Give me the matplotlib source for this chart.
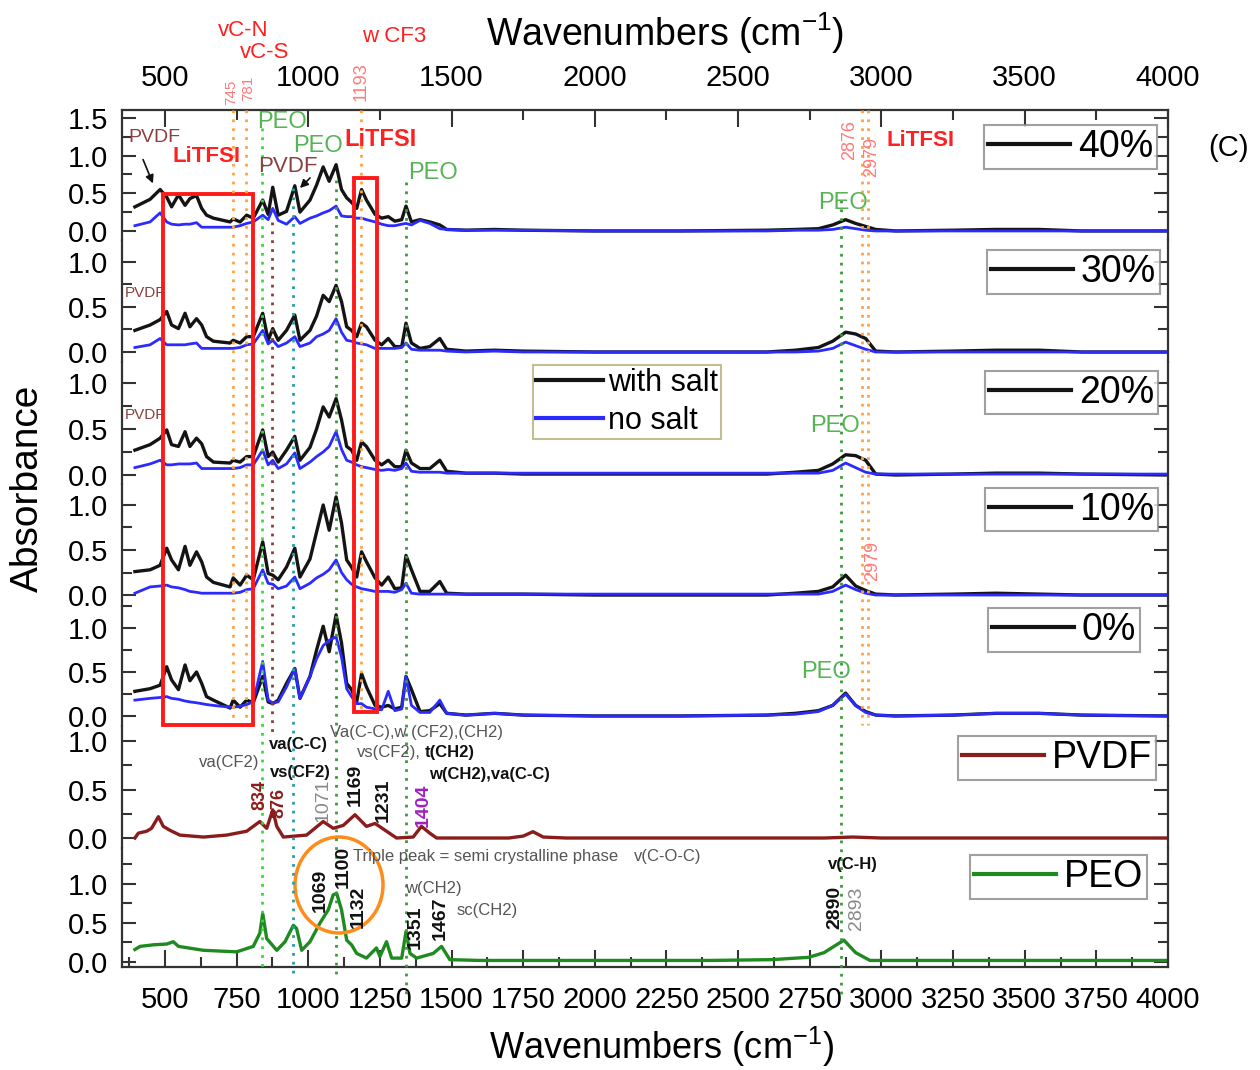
import matplotlib
matplotlib.use('Agg')
import matplotlib.pyplot as plt
from matplotlib import transforms
from matplotlib.lines import Line2D
from matplotlib.patches import Rectangle, Ellipse, FancyArrowPatch
from matplotlib.ticker import MultipleLocator, FormatStrFormatter

plt.rcParams['font.family'] = ['Liberation Sans', 'DejaVu Sans']
plt.rcParams['mathtext.default'] = 'regular'

# wavenumber grid (cm-1) shared by the blend spectra
wn_blend = [395, 448, 483, 506, 523, 547, 570, 587, 610, 628,
            645, 669, 727, 738, 762, 785, 808, 841, 860, 876,
            895, 924, 953, 971, 1006, 1029, 1052, 1073, 1097, 1116,
            1134, 1151, 1169, 1186, 1203, 1233, 1256, 1279, 1302, 1326,
            1341, 1360, 1390, 1424, 1459, 1483,
            1550, 1650, 1750, 2000, 2300, 2600, 2700, 2780, 2830, 2875,
            2910, 2945, 2980, 3050, 3250, 3400, 3550, 3700, 4000]

salt_40 = [0.32, 0.42, 0.55, 0.45, 0.32, 0.48, 0.34, 0.43, 0.47, 0.30,
           0.21, 0.17, 0.12, 0.16, 0.12, 0.21, 0.17, 0.41, 0.22, 0.58,
           0.21, 0.26, 0.60, 0.25, 0.41, 0.61, 0.85, 0.66, 0.88, 0.55,
           0.44, 0.38, 0.30, 0.55, 0.41, 0.22, 0.17, 0.19, 0.13, 0.15,
           0.33, 0.12, 0.15, 0.12, 0.08, 0.02,
           0.01, 0.02, 0.01, 0.00, 0.00, 0.01, 0.02, 0.03, 0.08, 0.15,
           0.10, 0.06, 0.02, 0.00, 0.01, 0.02, 0.02, 0.00, 0.00]
nosalt_40 = [0.07, 0.12, 0.24, 0.12, 0.09, 0.08, 0.09, 0.09, 0.11, 0.05,
             0.05, 0.05, 0.05, 0.05, 0.07, 0.10, 0.12, 0.21, 0.15, 0.30,
             0.14, 0.09, 0.19, 0.10, 0.17, 0.20, 0.24, 0.27, 0.33, 0.20,
             0.19, 0.19, 0.17, 0.17, 0.15, 0.12, 0.09, 0.07, 0.07, 0.09,
             0.10, 0.08, 0.14, 0.10, 0.03, 0.02,
             0.01, 0.01, 0.01, 0.00, 0.00, 0.00, 0.01, 0.01, 0.02, 0.05,
             0.03, 0.01, 0.00, 0.00, 0.00, 0.00, 0.00, 0.00, 0.00]
salt_30 = [0.24, 0.30, 0.36, 0.45, 0.30, 0.26, 0.43, 0.28, 0.37, 0.30,
           0.17, 0.12, 0.10, 0.13, 0.10, 0.17, 0.17, 0.43, 0.13, 0.26,
           0.13, 0.24, 0.41, 0.13, 0.24, 0.40, 0.63, 0.56, 0.74, 0.56,
           0.28, 0.24, 0.17, 0.32, 0.28, 0.13, 0.08, 0.15, 0.06, 0.06,
           0.32, 0.10, 0.04, 0.06, 0.15, 0.03,
           0.01, 0.02, 0.01, 0.00, 0.00, 0.00, 0.02, 0.05, 0.12, 0.22,
           0.20, 0.15, 0.01, 0.00, 0.01, 0.02, 0.02, 0.00, 0.00]
nosalt_30 = [0.05, 0.08, 0.15, 0.08, 0.08, 0.08, 0.08, 0.09, 0.10, 0.04,
             0.04, 0.04, 0.04, 0.04, 0.05, 0.08, 0.09, 0.24, 0.09, 0.13,
             0.06, 0.10, 0.17, 0.06, 0.10, 0.17, 0.20, 0.24, 0.37, 0.22,
             0.13, 0.12, 0.10, 0.09, 0.08, 0.04, 0.04, 0.04, 0.04, 0.05,
             0.10, 0.03, 0.02, 0.02, 0.02, 0.01,
             0.00, 0.01, 0.00, 0.00, 0.00, 0.00, 0.00, 0.01, 0.04, 0.11,
             0.07, 0.03, 0.00, 0.00, 0.00, 0.00, 0.00, 0.00, 0.00]
salt_20 = [0.27, 0.33, 0.40, 0.49, 0.33, 0.31, 0.47, 0.31, 0.40, 0.34,
           0.20, 0.14, 0.13, 0.16, 0.14, 0.20, 0.20, 0.49, 0.20, 0.25,
           0.14, 0.27, 0.42, 0.16, 0.30, 0.50, 0.74, 0.63, 0.83, 0.60,
           0.31, 0.27, 0.16, 0.36, 0.31, 0.16, 0.11, 0.16, 0.09, 0.09,
           0.27, 0.13, 0.07, 0.07, 0.16, 0.04,
           0.02, 0.02, 0.01, 0.01, 0.01, 0.01, 0.03, 0.05, 0.12, 0.22,
           0.21, 0.16, 0.01, 0.00, 0.01, 0.02, 0.02, 0.01, 0.00]
nosalt_20 = [0.08, 0.12, 0.16, 0.11, 0.11, 0.12, 0.12, 0.12, 0.13, 0.07,
             0.07, 0.07, 0.07, 0.07, 0.08, 0.11, 0.11, 0.27, 0.11, 0.16,
             0.07, 0.12, 0.24, 0.07, 0.14, 0.20, 0.25, 0.31, 0.47, 0.28,
             0.16, 0.14, 0.11, 0.09, 0.08, 0.06, 0.05, 0.06, 0.05, 0.07,
             0.13, 0.04, 0.03, 0.03, 0.03, 0.02,
             0.02, 0.02, 0.02, 0.02, 0.02, 0.02, 0.02, 0.02, 0.05, 0.13,
             0.08, 0.03, 0.01, 0.01, 0.01, 0.01, 0.01, 0.01, 0.01]
salt_10 = [0.26, 0.28, 0.33, 0.52, 0.39, 0.28, 0.54, 0.33, 0.48, 0.37,
           0.20, 0.14, 0.09, 0.19, 0.11, 0.22, 0.17, 0.59, 0.24, 0.22,
           0.17, 0.31, 0.52, 0.20, 0.40, 0.70, 1.00, 0.72, 1.09, 0.80,
           0.39, 0.31, 0.20, 0.48, 0.37, 0.19, 0.11, 0.20, 0.07, 0.08,
           0.44, 0.28, 0.04, 0.04, 0.15, 0.02,
           0.01, 0.01, 0.01, 0.00, 0.00, 0.00, 0.02, 0.04, 0.09, 0.22,
           0.10, 0.05, 0.01, 0.00, 0.01, 0.02, 0.01, 0.00, 0.00]
nosalt_10 = [0.02, 0.09, 0.10, 0.11, 0.09, 0.08, 0.06, 0.04, 0.03, 0.02,
             0.02, 0.02, 0.02, 0.02, 0.03, 0.06, 0.07, 0.28, 0.13, 0.12,
             0.07, 0.10, 0.20, 0.07, 0.13, 0.19, 0.23, 0.28, 0.39, 0.25,
             0.17, 0.12, 0.09, 0.07, 0.06, 0.04, 0.04, 0.04, 0.03, 0.06,
             0.13, 0.02, 0.01, 0.01, 0.01, 0.01,
             0.01, 0.01, 0.01, 0.01, 0.01, 0.01, 0.01, 0.01, 0.04, 0.11,
             0.06, 0.02, 0.00, 0.00, 0.00, 0.00, 0.00, 0.00, 0.00]
salt_0 = [0.28, 0.31, 0.35, 0.56, 0.41, 0.30, 0.58, 0.40, 0.50, 0.37,
          0.22, 0.18, 0.09, 0.18, 0.10, 0.18, 0.15, 0.45, 0.16, 0.14,
          0.18, 0.37, 0.54, 0.20, 0.45, 0.75, 1.02, 0.73, 1.15, 0.83,
          0.37, 0.30, 0.16, 0.48, 0.33, 0.12, 0.10, 0.12, 0.08, 0.10,
          0.45, 0.30, 0.05, 0.06, 0.14, 0.03,
          0.01, 0.03, 0.01, 0.00, 0.00, 0.01, 0.03, 0.06, 0.12, 0.26,
          0.12, 0.05, 0.01, 0.00, 0.01, 0.03, 0.03, 0.01, 0.00]
nosalt_0 = [0.18, 0.20, 0.21, 0.22, 0.20, 0.19, 0.17, 0.16, 0.15, 0.14,
            0.13, 0.12, 0.10, 0.10, 0.11, 0.13, 0.16, 0.62, 0.18, 0.15,
            0.16, 0.33, 0.54, 0.20, 0.45, 0.65, 0.80, 0.86, 0.90, 0.67,
            0.31, 0.22, 0.14, 0.14, 0.10, 0.08, 0.07, 0.28, 0.06, 0.08,
            0.45, 0.12, 0.04, 0.04, 0.18, 0.03,
            0.01, 0.03, 0.01, 0.00, 0.00, 0.01, 0.02, 0.05, 0.12, 0.25,
            0.12, 0.04, 0.01, 0.00, 0.01, 0.03, 0.03, 0.01, 0.00]

blend_labels = ['40%', '30%', '20%', '10%', '0%']
salt_series = [salt_40, salt_30, salt_20, salt_10, salt_0]
nosalt_series = [nosalt_40, nosalt_30, nosalt_20, nosalt_10, nosalt_0]

pvdf_wn = [395, 407, 436, 453, 477, 494, 517, 552, 634, 715,
           785, 831, 855, 876, 890, 913, 994, 1052, 1087, 1122,
           1163, 1203, 1233, 1273, 1308, 1366, 1395, 1424, 1448, 1550,
           1700, 1750, 1784, 1820, 1900, 2000, 2500, 2800, 2900, 3000, 4000]
pvdf_abs = [0.0, 0.05, 0.07, 0.10, 0.22, 0.12, 0.08, 0.03, 0.01, 0.03,
            0.07, 0.17, 0.10, 0.29, 0.12, 0.01, 0.03, 0.17, 0.10, 0.13,
            0.24, 0.12, 0.15, 0.07, 0.0, 0.01, 0.12, 0.05, 0.0, 0.0,
            0.0, 0.02, 0.065, 0.01, 0.0, 0.0, 0.0, 0.0, 0.01, 0.0, 0.0]

peo_wn = [395, 413, 459, 506, 529, 547, 634, 750, 808, 831,
          841, 855, 890, 919, 948, 959, 977, 1006, 1041, 1070,
          1087, 1099, 1116, 1134, 1151, 1169, 1203, 1238, 1250, 1273,
          1291, 1326, 1341, 1355, 1378, 1436, 1465, 1494, 1600, 2000,
          2400, 2617, 2746, 2800, 2869, 2910, 2960, 3100, 3500, 4000]
peo_abs = [0.16, 0.20, 0.22, 0.23, 0.26, 0.20, 0.15, 0.13, 0.20, 0.37,
           0.62, 0.30, 0.15, 0.26, 0.47, 0.43, 0.15, 0.26, 0.50, 0.67,
           0.86, 0.88, 0.67, 0.28, 0.22, 0.11, 0.05, 0.18, 0.07, 0.26,
           0.05, 0.05, 0.39, 0.11, 0.05, 0.11, 0.20, 0.03, 0.02, 0.02,
           0.02, 0.03, 0.06, 0.12, 0.28, 0.12, 0.02, 0.02, 0.02, 0.02]

# reference band positions drawn as dotted guides
band_wn = [737, 783, 1184, 2932, 2953, 838, 873, 947, 1097, 1341, 2859]
band_colors = ['#ffa347'] * 5 + ['#33dd33', '#8b3a3a', '#2a9d9d', '#3c9a3c', '#3c9a3c', '#3c9a3c']
band_span_px = [(110, 722), (110, 722), (110, 712), (110, 725), (110, 725),
                (128, 968), (222, 735), (188, 975), (180, 978), (182, 1000), (200, 1000)]

W, H = 1260, 1070


def fxy(x, y):
    return x / W, 1 - y / H


fig = plt.figure(figsize=(W / 100, H / 100), dpi=100)

panel_px = [(110, 240), (240, 362), (362, 484), (484, 606), (606, 726), (726, 848), (848, 967)]
panel_ylim = [(-0.12, 1.606), (-0.111, 1.244), (-0.098, 1.228), (-0.122, 1.233),
              (-0.114, 1.25), (-0.103, 1.155), (-0.064, 1.46)]
legend_px = [(984, 125), (987, 250), (985, 371), (985, 488), (988, 608), (958, 736), (970, 855)]

axes = []
for (top, bot), ylim in zip(panel_px, panel_ylim):
    ax = fig.add_axes([122 / W, 1 - bot / H, (1168 - 122) / W, (bot - top) / H])
    ax.set_xlim(350, 4000)
    ax.set_ylim(*ylim)
    for s in ax.spines.values():
        s.set_linewidth(1.6)
        s.set_color('#333333')
    ax.spines['top'].set_visible(False)
    ax.spines['bottom'].set_visible(False)
    ax.yaxis.set_major_locator(MultipleLocator(0.5))
    ax.yaxis.set_minor_locator(MultipleLocator(0.25))
    ax.yaxis.set_major_formatter(FormatStrFormatter('%.1f'))
    ax.tick_params(axis='y', which='both', direction='in', left=True, right=True,
                   labelsize=21, pad=10, width=1.5, color='#333333')
    ax.tick_params(axis='y', which='major', length=10)
    ax.tick_params(axis='y', which='minor', length=7)
    ax.tick_params(axis='x', which='both', bottom=False, top=False,
                   labelbottom=False, labeltop=False)
    axes.append(ax)

# blends: with salt (black) and no salt (blue)
for i, ax in enumerate(axes[:5]):
    l1, = ax.plot(wn_blend, salt_series[i], color='#141414', lw=2.4, label=blend_labels[i])
    ax.plot(wn_blend, nosalt_series[i], color='#2b2bff', lw=2.0)
    lg = ax.legend(handles=[l1], loc='upper left', bbox_to_anchor=fxy(*legend_px[i]),
                   bbox_transform=fig.transFigure, fontsize=27, frameon=True, fancybox=False,
                   borderpad=0.1, handlelength=2.2, handletextpad=0.2, borderaxespad=0)
    lg.get_frame().set_edgecolor('#888888')
    lg.get_frame().set_linewidth(1.5)
    lg.get_lines()[0].set_linewidth(3)

l_pvdf, = axes[5].plot(pvdf_wn, pvdf_abs, color='#8b1c1c', lw=2.4, label='PVDF')
l_peo, = axes[6].plot(peo_wn, peo_abs, color='#1f8a1f', lw=2.4, label='PEO')
for ax, h, pos in [(axes[5], l_pvdf, legend_px[5]), (axes[6], l_peo, legend_px[6])]:
    lg = ax.legend(handles=[h], loc='upper left', bbox_to_anchor=fxy(*pos),
                   bbox_transform=fig.transFigure, fontsize=27, frameon=True, fancybox=False,
                   borderpad=0.1, handlelength=2.2, handletextpad=0.2, borderaxespad=0)
    lg.get_frame().set_edgecolor('#888888')
    lg.get_frame().set_linewidth(1.5)
    lg.get_lines()[0].set_linewidth(3)

# with salt / no salt legend
first = axes[2].get_legend()
proxy = [Line2D([], [], color='#141414', lw=3), Line2D([], [], color='#2b2bff', lw=3)]
lg = axes[2].legend(proxy, ['with salt', 'no salt'], loc='upper left',
                    bbox_to_anchor=fxy(533, 365), bbox_transform=fig.transFigure,
                    fontsize=22, fancybox=False, borderpad=0.1, handlelength=2.2,
                    handletextpad=0.15, labelspacing=0.25, borderaxespad=0)
lg.get_frame().set_edgecolor('#b5ad7a')
lg.get_frame().set_linewidth(1.5)
axes[2].add_artist(first)

# top axis
ax1 = axes[0]
ax1.spines['top'].set_visible(True)
ax1.xaxis.set_major_locator(MultipleLocator(500))
ax1.xaxis.set_minor_locator(MultipleLocator(250))
ax1.tick_params(axis='x', which='both', top=True, labeltop=True, direction='in',
                labelsize=21, pad=13, width=1.5, color='#333333')
ax1.tick_params(axis='x', which='major', length=12)
ax1.tick_params(axis='x', which='minor', length=7)
ax1.xaxis.set_label_position('top')
ax1.set_xlabel('Wavenumbers (cm$^{-1}$)', fontsize=27, labelpad=4)
ax1.xaxis.set_label_coords(0.519, 1.0 + (110 - 56) / 130)
ax1.xaxis.label.set_va('bottom')

# bottom axis
ax7 = axes[6]
ax7.spines['bottom'].set_visible(True)
ax7.xaxis.set_major_locator(MultipleLocator(250))
ax7.xaxis.set_minor_locator(MultipleLocator(125))
ax7.tick_params(axis='x', which='both', bottom=True, labelbottom=True, direction='in',
                labelsize=21, pad=14, width=1.5, color='#333333')
ax7.tick_params(axis='x', which='major', length=12)
ax7.tick_params(axis='x', which='minor', length=7)
ax7.set_xlabel('Wavenumbers (cm$^{-1}$)', fontsize=26)
ax7.xaxis.set_label_coords(0.516, -(1025 - 967) / 119)
ax7.xaxis.label.set_va('top')

fig.text(*fxy(28, 488), 'Absorbance', rotation=90, ha='center', va='center', fontsize=28)
fig.text(*fxy(1228, 148), '(C)', ha='center', va='center', fontsize=21)

# dotted band guides spanning the panels
trans = transforms.blended_transform_factory(ax1.transData, fig.transFigure)
for x, c, (t, b) in zip(band_wn, band_colors, band_span_px):
    fig.add_artist(Line2D([x, x], [1 - t / H, 1 - b / H], transform=trans, color=c,
                          lw=2, ls=(0, (1, 2.2))))

# LiTFSI boxes
for x0, x1, t, b in [(493, 807, 194, 725), (1159, 1240, 178, 712)]:
    fig.add_artist(Rectangle((x0, 1 - b / H), x1 - x0, (b - t) / H, transform=trans,
                             fill=False, edgecolor='#ff1a1a', lw=2.8))

# triple-peak circle
fig.add_artist(Ellipse(fxy(339, 885), 88 / W, 96 / H, transform=fig.transFigure,
                       fill=False, edgecolor='#ff8c1a', lw=2.5))

# arrows
for a, b in [((142, 157), (154, 186)), ((312, 176), (298, 190))]:
    fig.add_artist(FancyArrowPatch(fxy(*a), fxy(*b), transform=fig.transFigure,
                                   arrowstyle='-|>', mutation_scale=12, color='#111111', lw=1.2))


def note(x, y, s, size, color, weight='normal', rot=0, ha='center'):
    fig.text(*fxy(x, y), s, ha=ha, va='center', fontsize=size, color=color,
             fontweight=weight, rotation=rot)


red = '#ff2020'
salmon = '#ff7a7a'
lgreen = '#55b555'
brown = '#8b4040'
grey = '#555555'

note(243, 30, 'vC-N', 16, red)
note(265, 53, 'vC-S', 16, red)
note(394, 37, 'w CF3', 16, red)
note(231, 92, '745', 11, salmon, rot=90)
note(248, 88, '781', 11, salmon, rot=90)
note(361, 82, '1193', 13, salmon, rot=90)
note(850, 140, '2876', 13, salmon, rot=90)
note(872, 157, '2979', 13, salmon, rot=90)
note(873, 561, '2979', 13, salmon, rot=90)

note(154, 137, 'PVDF', 14, brown)
note(207, 156, 'LiTFSI', 16, red, 'bold')
note(282, 122, 'PEO', 17, lgreen)
note(318, 146, 'PEO', 17, lgreen)
note(288, 167, 'PVDF', 16, brown)
note(381, 139, 'LiTFSI', 17, red, 'bold')
note(433, 173, 'PEO', 17, lgreen)
note(921, 140, 'LiTFSI', 16, red, 'bold')
note(843, 203, 'PEO', 17, lgreen)
note(145, 293, 'PVDF', 11, brown)
note(145, 415, 'PVDF', 11, brown)
note(835, 426, 'PEO', 17, lgreen)
note(826, 672, 'PEO', 17, lgreen)

note(229, 762, 'va(CF2)', 12, grey)
note(298, 745, 'va(C-C)', 12, '#111111', 'bold')
note(300, 773, 'vs(CF2)', 12, '#111111', 'bold')
note(417, 732, 'Va(C-C),w (CF2),(CH2)', 12, grey)
note(357, 752, 'vs(CF2),', 12, grey, ha='left')
note(425, 752, 't(CH2)', 12, '#111111', 'bold', ha='left')
note(489, 774, 'w(CH2),va(C-C)', 12, '#111111', 'bold')
note(260, 795, '834', 13, '#8b1c1c', 'bold', 90)
note(279, 803, '876', 13, '#8b1c1c', 'bold', 90)
note(323, 800, '1071', 14, '#888888', rot=90)
note(355, 785, '1169', 14, '#111111', 'bold', 90)
note(383, 800, '1231', 14, '#111111', 'bold', 90)
note(423, 805, '1404', 14, '#a020c0', 'bold', 90)

note(353, 857, 'Triple peak = semi crystalline phase', 12, grey, ha='left')
note(634, 857, 'v(C-O-C)', 12, grey, ha='left')
note(320, 890, '1069', 14, '#111111', 'bold', 90)
note(343, 867, '1100', 14, '#111111', 'bold', 90)
note(358, 907, '1132', 14, '#111111', 'bold', 90)
note(433, 888, 'w(CH2)', 12, grey)
note(487, 910, 'sc(CH2)', 12, grey)
note(415, 927, '1351', 14, '#111111', 'bold', 90)
note(440, 918, '1467', 14, '#111111', 'bold', 90)
note(853, 864, 'v(C-H)', 12, '#111111', 'bold')
note(835, 907, '2890', 14, '#111111', 'bold', 90)
note(857, 908, '2893', 14, '#888888', rot=90)

fig.savefig('out.png', dpi=100)
